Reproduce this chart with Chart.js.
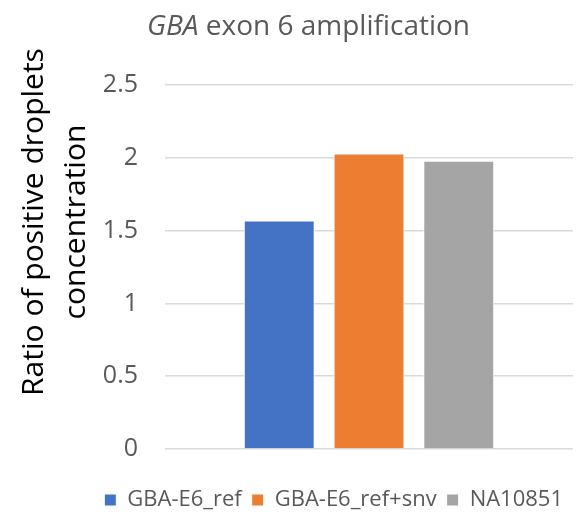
<!DOCTYPE html>
<html>
<head>
<meta charset="utf-8">
<script src="https://cdn.jsdelivr.net/npm/chart.js@4.4.1/dist/chart.umd.min.js"></script>
<style>
  html, body { margin: 0; padding: 0; background: #fff; }
  #wrap { width: 583px; height: 521px; position: relative; }
</style>
</head>
<body>
<div id="wrap"><canvas id="c"></canvas></div>
<script>
// GBA exon 6 amplification — single-category grouped bar
const categories = [''];
const seriesNames = ['GBA-E6_ref', 'GBA-E6_ref+snv', 'NA10851'];
const refValues = [1.57];
const refSnvValues = [2.03];
const naValues = [1.98];
const yTicks = [0, 0.5, 1, 1.5, 2, 2.5];
const yTitleLines = ['Ratio of positive droplets', 'concentration'];

const seriesColors = ['#4472C4', '#ED7D31', '#A5A5A5'];
const FONT = '"Open Sans", sans-serif';

// chart title (gene name italic) and the two-line y title, drawn by hand
const textPlugin = {
    id: 'handText',
    afterDraw(chart) {
        const ctx = chart.ctx;
        ctx.save();
        ctx.fillStyle = '#595959';
        ctx.textBaseline = 'alphabetic';
        ctx.textAlign = 'left';
        let x = 147;
        ctx.font = 'italic 28px ' + FONT;
        ctx.fillText('GBA', x, 35);
        x += ctx.measureText('GBA').width;
        ctx.font = '28px ' + FONT;
        ctx.fillText(' exon 6 amplification', x, 35);
        ctx.restore();

        ctx.save();
        ctx.fillStyle = '#000000';
        ctx.font = '30px ' + FONT;
        ctx.textAlign = 'center';
        ctx.textBaseline = 'alphabetic';
        ctx.translate(43, 222);
        ctx.rotate(-Math.PI / 2);
        yTitleLines.forEach((line, i) => ctx.fillText(line, 0, i * 42));
        ctx.restore();
    }
};

const seriesData = [refValues, refSnvValues, naValues];

new Chart(document.getElementById('c'), {
    type: 'bar',
    data: {
        labels: categories,
        datasets: seriesNames.map((name, i) => ({
            label: name,
            data: seriesData[i],
            backgroundColor: seriesColors[i],
            borderColor: '#ffffff',
            borderWidth: 1,
            categoryPercentage: 0.66,
            barPercentage: 0.79
        }))
    },
    options: {
        responsive: true,
        maintainAspectRatio: false,
        animation: false,
        layout: { padding: { top: 85, right: 10, left: 0, bottom: 0 } },
        plugins: {
            title: { display: false },
            tooltip: { enabled: false },
            legend: {
                position: 'bottom',
                align: 'end',
                labels: {
                    boxWidth: 12,
                    boxHeight: 12,
                    padding: 10,
                    color: '#595959',
                    font: { family: FONT, size: 22 }
                }
            }
        },
        scales: {
            x: {
                display: true,
                grid: { display: false },
                border: { display: false },
                ticks: { display: false },
                afterFit: (scale) => { scale.height = 30; }
            },
            y: {
                min: 0,
                max: 2.5,
                afterBuildTicks: (scale) => { scale.ticks = yTicks.map(v => ({ value: v })); },
                afterFit: (scale) => { scale.width = 165; },
                border: { display: false },
                grid: { color: '#d9d9d9', lineWidth: 1.5, drawTicks: false },
                ticks: {
                    color: '#595959',
                    padding: 27,
                    font: { family: FONT, size: 25 },
                    callback: (v) => String(v)
                }
            }
        }
    },
    plugins: [textPlugin]
});
</script>
</body>
</html>
